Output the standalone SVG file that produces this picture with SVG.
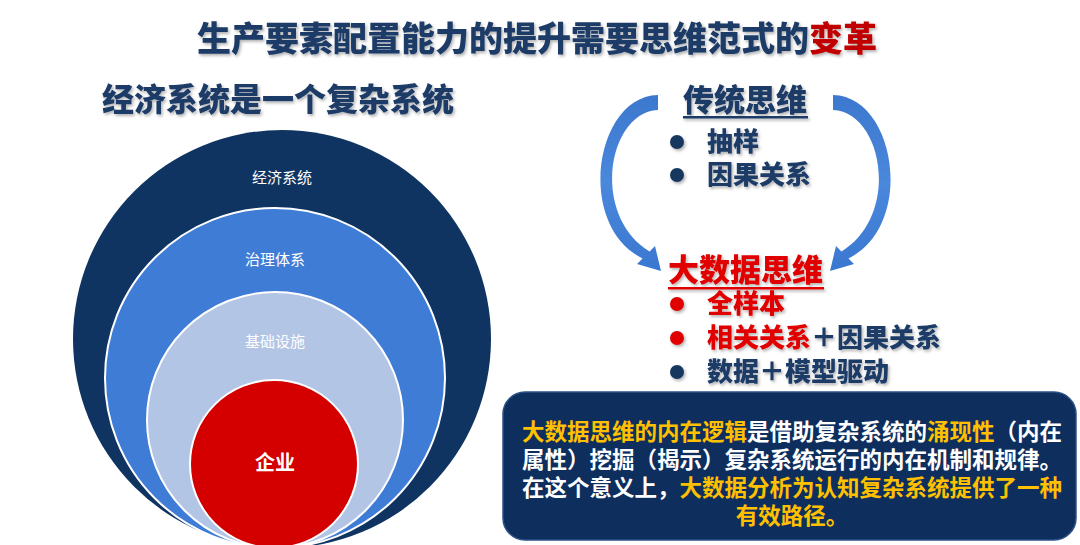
<svg xmlns="http://www.w3.org/2000/svg" width="1080" height="545" viewBox="0 0 1080 545">
<defs>
<filter id="sh" x="-5%" y="-20%" width="110%" height="150%">
<feDropShadow dx="1.5" dy="2" stdDeviation="1.5" flood-color="#000" flood-opacity="0.3"/>
</filter>
<linearGradient id="ag" x1="0" y1="0" x2="0" y2="1">
<stop offset="0" stop-color="#3C78CE"/>
<stop offset="0.5" stop-color="#4A88DC"/>
<stop offset="1" stop-color="#3A77D0"/>
</linearGradient>
<style>
text{font-family:"Noto Sans CJK SC","Noto Sans",sans-serif;}
.navy{fill:#1B3A66;}
.red{fill:#E00000;}
.yel{fill:#FFC000;}
.wht{fill:#FFFFFF;}
.h{font-size:31px;font-weight:900;}
.li{font-size:26px;font-weight:900;}
.bx{font-size:22.5px;font-weight:bold;}
.cl{font-size:15px;text-anchor:middle;fill:#FFFFFF;}
.ring{stroke:#FFFFFF;stroke-width:2;}
</style>
</defs>
<rect width="1080" height="545" fill="#FFFFFF"/>

<g id="title" filter="url(#sh)">
<text x="537" y="51" text-anchor="middle" font-size="34" font-weight="900"><tspan class="navy">生产要素配置能力的提升需要思维范式的</tspan><tspan fill="#C00000">变革</tspan></text>
</g>

<g id="left-header" filter="url(#sh)">
<text x="278" y="111" text-anchor="middle" font-size="32" font-weight="900" class="navy">经济系统是一个复杂系统</text>
</g>

<g id="circles">
<g id="economy">
<circle cx="282" cy="339" r="209" fill="#0F3461"/>
<text x="282" y="183" class="cl">经济系统</text>
</g>
<g id="governance">
<circle cx="275" cy="378" r="170" fill="#3F7CD5" class="ring"/>
<text x="275" y="265" class="cl">治理体系</text>
</g>
<g id="infrastructure">
<circle cx="275" cy="420" r="128" fill="#B3C5E5" class="ring"/>
<text x="275" y="347" class="cl" fill="#EEF2F9">基础设施</text>
</g>
<g id="enterprise">
<circle cx="274" cy="464" r="84" fill="#D40000" class="ring"/>
<text x="275" y="470" text-anchor="middle" font-size="20" font-weight="bold" class="wht">企业</text>
</g>
</g>

<g id="connectors">
<path id="arrow-left" fill="url(#ag)" d="M658 95 C595 96 575 225 642.5 258.5 L637 264 L661 271 L655 246 L649.5 251.5 C590 215 608 112 658 110 Z"/>
<path id="arrow-right" fill="url(#ag)" transform="translate(1491,0) scale(-1,1)" d="M658 95 C595 96 575 225 642.5 258.5 L637 264 L661 271 L655 246 L649.5 251.5 C590 215 608 112 658 110 Z"/>
</g>

<g id="traditional">
<g filter="url(#sh)">
<text x="683" y="111" class="h navy">传统思维</text>
<rect x="683" y="116" width="125" height="2.5" fill="#1B3A66"/>
<circle cx="677" cy="142" r="7" fill="#17375E"/>
<text x="707" y="151" class="li navy">抽样</text>
<circle cx="677" cy="175" r="7" fill="#17375E"/>
<text x="707" y="184" class="li navy">因果关系</text>
</g>
</g>

<g id="bigdata">
<g filter="url(#sh)">
<text x="668" y="281" class="h red">大数据思维</text>
<rect x="668" y="287" width="156" height="2.5" fill="#E00000"/>
<circle cx="677" cy="304" r="7" fill="#E00000"/>
<text x="707" y="313" class="li red">全样本</text>
<circle cx="677" cy="338" r="7" fill="#E00000"/>
<text x="707" y="347" class="li"><tspan class="red">相关关系</tspan><tspan class="navy">＋因果关系</tspan></text>
<circle cx="677" cy="372" r="7" fill="#17375E"/>
<text x="707" y="381" class="li navy">数据＋模型驱动</text>
</g>
</g>

<g id="summary-box">
<rect x="503" y="392" width="573" height="148" rx="22" fill="#0E2F5E" stroke="#2C5186" stroke-width="1.5"/>
<text x="792" y="440" text-anchor="middle" class="bx"><tspan class="yel">大数据思维的内在逻辑</tspan><tspan class="wht">是借助复杂系统的</tspan><tspan class="yel">涌现性</tspan><tspan class="wht">（内在</tspan></text>
<text x="792" y="468" text-anchor="middle" class="bx wht">属性）挖掘（揭示）复杂系统运行的内在机制和规律。</text>
<text x="792" y="496" text-anchor="middle" class="bx"><tspan class="wht">在这个意义上，</tspan><tspan class="yel">大数据分析为认知复杂系统提供了一种</tspan></text>
<text x="792" y="524" text-anchor="middle" class="bx yel">有效路径。</text>
</g>
</svg>
